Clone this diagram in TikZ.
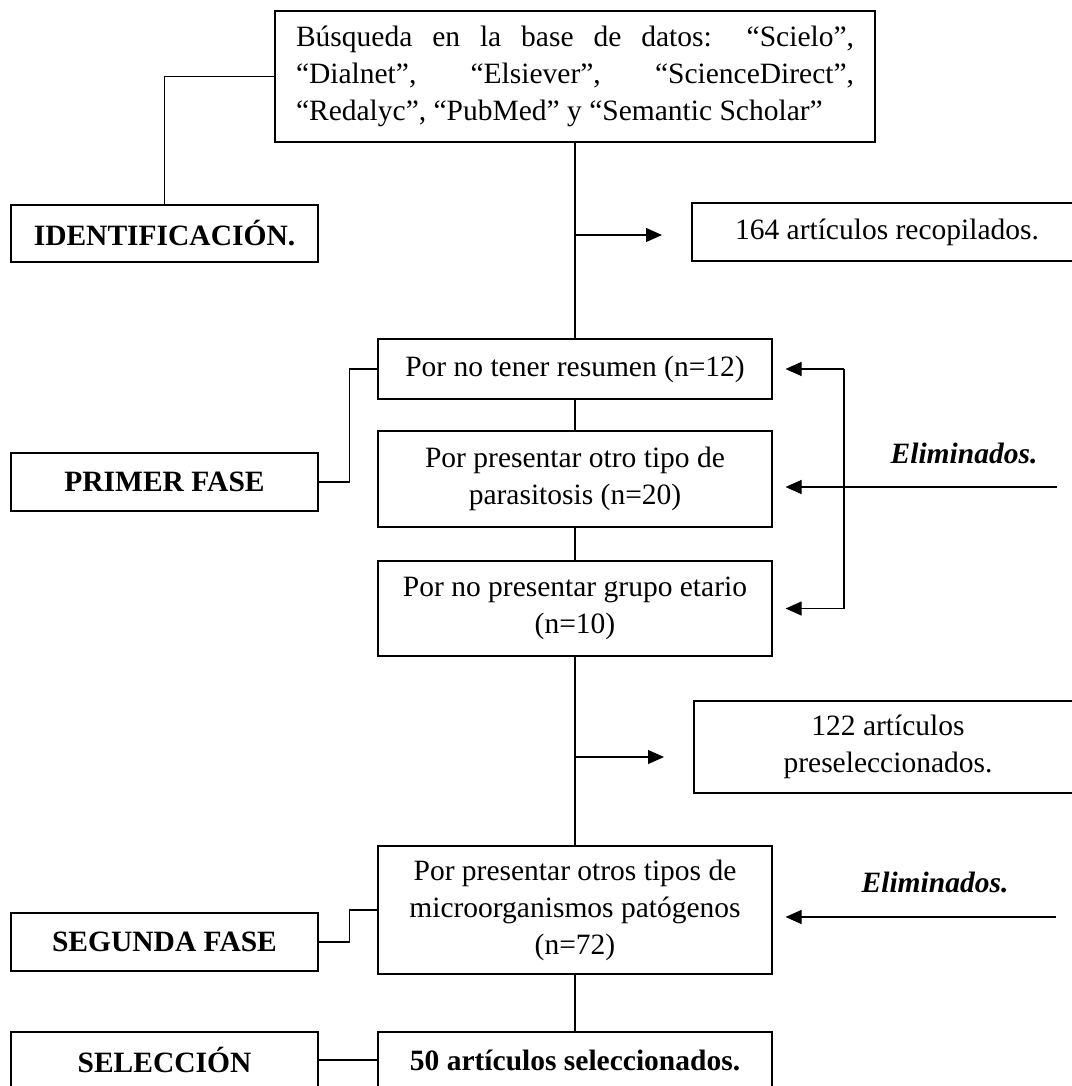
\documentclass[tikz,border=0pt]{standalone}
\usepackage{fontspec}
\setmainfont{Liberation Serif}
\usetikzlibrary{arrows.meta}
\begin{document}
\begin{tikzpicture}[x=1pt,y=-1pt,
  box/.style={draw, line width=1.1pt, inner sep=0pt, align=center, font=\fontsize{29.5}{37}\selectfont},
  bbox/.style={box, font=\fontsize{29.5}{37}\selectfont\bfseries},
  elim/.style={anchor=base, inner sep=0pt, font=\fontsize{29.5}{37}\selectfont\bfseries\itshape},
  arr/.style={-{Triangle[length=16pt,width=14pt]}, line width=1.1pt},
  lnk/.style={line width=1.1pt}]
\useasboundingbox (0,0) rectangle (1071,1086);

% top search box
\node[box, minimum width=600pt, minimum height=131pt, align=left] (top) at (575,76.5)
  {\makebox[558pt][s]{Búsqueda en la base de datos: “Scielo”,}\\
   \makebox[558pt][s]{“Dialnet”, “Elsiever”, “ScienceDirect”,}\\
   “Redalyc”, “PubMed” y “Semantic Scholar”};

% left phase labels
\node[bbox, minimum width=307pt, minimum height=57pt] (id) at (164.5,233.5) {IDENTIFICACIÓN.};
\node[bbox, minimum width=307pt, minimum height=58pt] (primer) at (164.5,482) {PRIMER FASE};
\node[bbox, minimum width=307pt, minimum height=58pt] (segunda) at (164.5,942) {SEGUNDA FASE};
\node[bbox, minimum width=307pt, minimum height=56pt] (sel) at (164.5,1060) {SELECCIÓN};

% central boxes
\node[box, minimum width=394pt, minimum height=60pt] (b1) at (575,369) {Por no tener resumen (n=12)};
\node[box, minimum width=394pt, minimum height=96pt] (b2) at (575,479) {Por presentar otro tipo de\\parasitosis (n=20)};
\node[box, minimum width=394pt, minimum height=95pt] (b3) at (575,608.5) {Por no presentar grupo etario\\(n=10)};
\node[box, minimum width=394pt, minimum height=128pt] (b4) at (575,910) {Por presentar otros tipos de\\microorganismos patógenos\\(n=72)};
\node[bbox, minimum width=394pt, minimum height=56pt] (b50) at (575,1060) {50 artículos seleccionados.};

% right result boxes
\node[box, minimum width=390pt, minimum height=58pt] (r164) at (887,232) {164 artículos recopilados.};
\node[box, minimum width=388pt, minimum height=92pt] (r122) at (888,747) {122 artículos\\preseleccionados.};

% Eliminados labels
\node[elim] (el1) at (964,463) {Eliminados.};
\node[elim] (el2) at (935,892) {Eliminados.};

% main vertical line
\draw[lnk] (top.south) -- (b1.north);
\draw[lnk] (b1.south) -- (b2.north);
\draw[lnk] (b2.south) -- (b3.north);
\draw[lnk] (b3.south) -- (b4.north);
\draw[lnk] (b4.south) -- (b50.north);

% phase connectors
\draw[lnk] (id.north) |- (top.west);
\draw[lnk] (primer.east) -- ++(31,0) |- (b1.west);
\draw[lnk] (segunda.east) -- ++(31,0) |- (b4.west);
\draw[lnk] (sel.east) -- (b50.west);

% arrows to result boxes
\coordinate (s1) at (576,235);
\coordinate (t1) at (662,235);
\draw[arr] (s1) -- (t1);
\coordinate (s2) at (576,757);
\coordinate (t2) at (664,757);
\draw[arr] (s2) -- (t2);

% elimination bracket and arrows
\coordinate (bk1) at (844,369);
\coordinate (bk2) at (844,608.5);
\draw[lnk] (bk1) -- (bk2);
\draw[arr, shorten >=13pt] (bk1) -- (b1.east);
\draw[arr, shorten >=13pt] (bk2) -- (b3.east);
\coordinate (l1) at (1057,487);
\draw[arr, shorten >=13pt] (l1) -- (l1 -| b2.east);
\coordinate (l2) at (1056,917);
\draw[arr, shorten >=13pt] (l2) -- (l2 -| b4.east);
\end{tikzpicture}
\end{document}
